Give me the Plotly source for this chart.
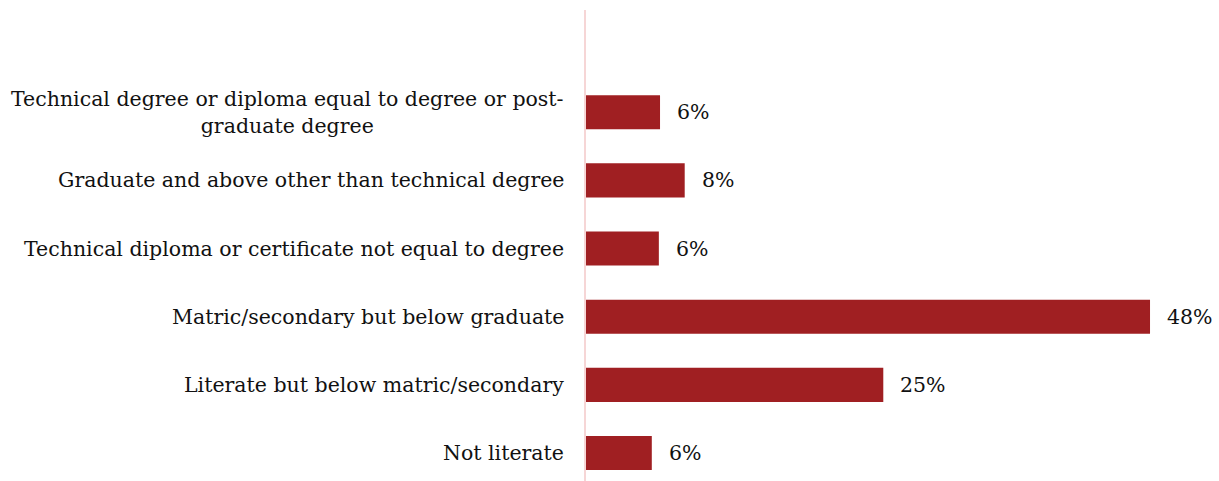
import plotly.graph_objects as go

# Education levels, listed top to bottom
categories = [
    "Technical degree or diploma equal to degree or post-<br>graduate degree",
    "Graduate and above other than technical degree",
    "Technical diploma or certificate not equal to degree",
    "Matric/secondary but below graduate",
    "Literate but below matric/secondary",
    "Not literate",
]
shares = [6.3, 8.4, 6.2, 48.0, 25.3, 5.6]

bar_color = "#a01f22"
axis_color = "#f6d6d6"
font_family = "DejaVu Serif, Georgia, serif"
font_size = 20.5

# Bottom-to-top order for plotting
cats_plot = categories[::-1]
vals_plot = shares[::-1]

fig = go.Figure(
    go.Bar(
        x=vals_plot,
        y=cats_plot,
        orientation="h",
        marker=dict(color=bar_color, line=dict(width=0)),
        width=0.5,
        hoverinfo="skip",
    )
)

annotations = []
for cat, val in zip(cats_plot, vals_plot):
    # category label, centred line by line, right-aligned against the axis
    annotations.append(dict(
        x=0, xref="x", y=cat, yref="y",
        text=cat, showarrow=False,
        xanchor="right", yanchor="middle", align="center",
        xshift=-20,
        font=dict(family=font_family, size=font_size, color="#111111"),
    ))
    # value label past the bar end
    annotations.append(dict(
        x=val, xref="x", y=cat, yref="y",
        text=f"{val:.0f}%", showarrow=False,
        xanchor="left", yanchor="middle",
        xshift=15,
        font=dict(family=font_family, size=font_size, color="#111111"),
    ))

fig.update_layout(
    width=1219, height=481,
    margin=dict(l=586, r=0, t=10, b=0),
    paper_bgcolor="white", plot_bgcolor="white",
    showlegend=False,
    annotations=annotations,
    xaxis=dict(range=[0, 53.87], visible=False, fixedrange=True),
    yaxis=dict(
        type="category",
        categoryorder="array", categoryarray=cats_plot,
        range=[-0.41, 6.5],
        showticklabels=False, ticks="",
        showgrid=False, zeroline=False,
        showline=True, linecolor=axis_color, linewidth=2,
        fixedrange=True,
    ),
)

fig.write_html("out.html")
